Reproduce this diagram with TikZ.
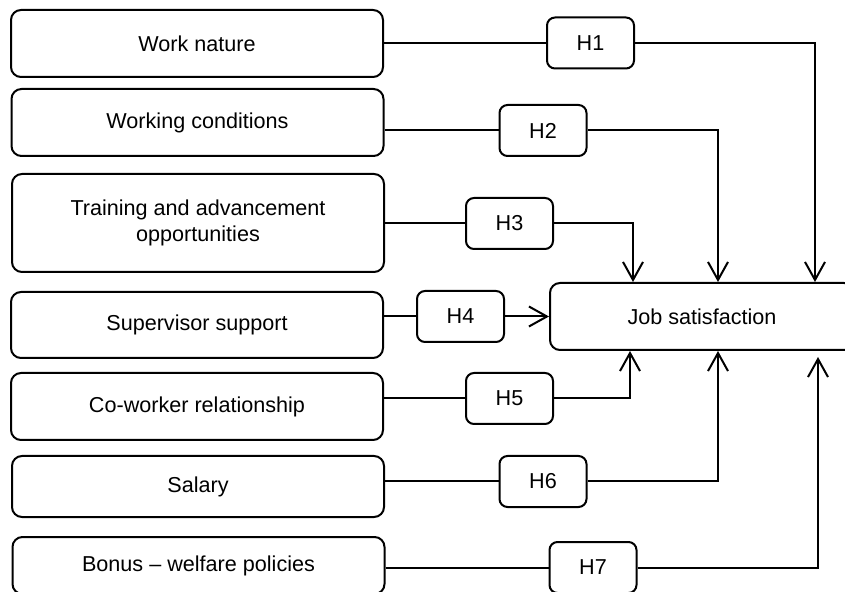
\documentclass[tikz,border=0pt]{standalone}
\usepackage{fontspec}
\setmainfont{Liberation Sans}
\usetikzlibrary{calc, positioning, arrows.meta}

\begin{document}
\begin{tikzpicture}[x=0.5pt, y=-0.5pt,
        every node/.style={font=\fontsize{10.8}{12.6}\selectfont},
        factor/.style={draw, rectangle, rounded corners=5pt, line width=1pt, minimum width=186pt, align=center, inner sep=0pt},
        hyp/.style={draw, rectangle, rounded corners=4pt, line width=1pt, minimum width=43.5pt, minimum height=25.5pt, inner sep=0pt},
        link/.style={line width=1pt},
        arr/.style={line width=1pt, -{Straight Barb[length=9pt, width=10pt]}}]

        \useasboundingbox (0,0) rectangle (845,592);

        % factors on the left
        \node[factor, minimum height=33.5pt] (WN) at (197,43.5) {Work nature};
        \node[factor, minimum height=33.5pt] (WC) at (197.5,122.5) {Working conditions};
        \node[factor, minimum height=49pt] (TA) at (198,223) {Training and advancement\\opportunities};
        \node[factor, minimum height=33pt] (SS) at (197,325) {Supervisor support};
        \node[factor, minimum height=33.5pt] (CW) at (197,406.5) {Co-worker relationship};
        \node[factor, minimum height=30.5pt] (SA) at (198,486.5) {Salary};
        \node[factor, minimum height=28.5pt] (BW) at (198.5,565.5) {Bonus -- welfare policies};

        \node[factor, minimum width=152pt, minimum height=33.5pt] (JS) at (702,316.5) {Job satisfaction};

        % hypotheses
        \node[hyp] (H1) at (590.5,43) {H1};
        \node[hyp] (H2) at (543,130.5) {H2};
        \node[hyp] (H3) at (509.5,223.5) {H3};
        \node[hyp] (H4) at (460.5,316.5) {H4};
        \node[hyp] (H5) at (509.5,398.5) {H5};
        \node[hyp] (H6) at (543,481.5) {H6};
        \node[hyp] (H7) at (593,567.5) {H7};

        \draw[link] (WN.east |- H1) -- (H1);
        \draw[link] (WC.east |- H2) -- (H2);
        \draw[link] (TA.east |- H3) -- (H3);
        \draw[link] (SS.east |- H4) -- (H4);
        \draw[link] (CW.east |- H5) -- (H5);
        \draw[link] (SA.east |- H6) -- (H6);
        \draw[link] (BW.east |- H7) -- (H7);

        \draw[arr] (H1) -| ($(JS.north west)+(266,0)$);
        \draw[arr] (H2) -| ($(JS.north west)+(169,0)$);
        \draw[arr] (H3) -| ($(JS.north west)+(84,0)$);
        \draw[arr] (H4) -- (JS);
        \draw[arr] (H5) -| ($(JS.south west)+(81,0)$);
        \draw[arr] (H6) -| ($(JS.south west)+(169,0)$);
        \draw[arr] (H7) -| ($(JS.south west)+(269,6)$);

    \end{tikzpicture}
\end{document}
